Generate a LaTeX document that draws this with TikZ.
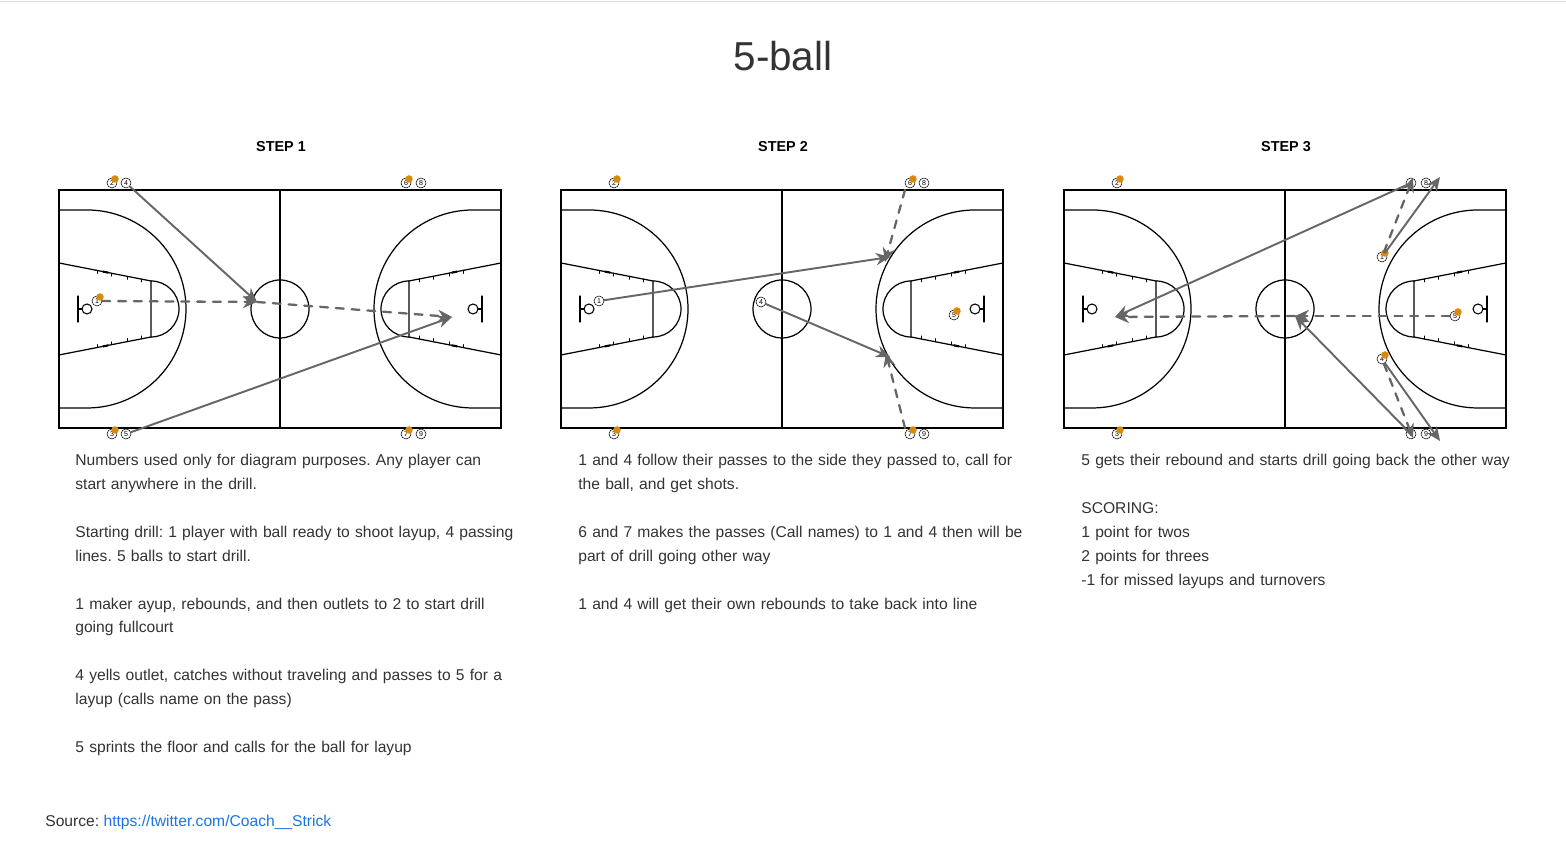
\documentclass[tikz,border=0pt]{standalone}
\usepackage{fontspec}
\setmainfont{Liberation Sans}
\usetikzlibrary{arrows.meta}
\frenchspacing
\definecolor{pass}{HTML}{666666}
\definecolor{ballc}{HTML}{D98A0C}
\definecolor{txt}{HTML}{333333}
\definecolor{link}{HTML}{1A73E8}
% one player and one player holding a ball
\newcommand{\plyr}[3]{\node[player] (#1) at (#2) {#3};}
\newcommand{\bplyr}[3]{\node[player] (#1) at (#2) {#3};
  \node[ball] at ([shift={(3,4)}]#1.center) {};}
\begin{document}
\begin{tikzpicture}
     [x=0.02cm,y=0.02cm,line cap=round,
      % Styles
        court/.pic={
          \draw[line width=0.7pt] (0,0) rectangle (442,238);
          \draw[line width=0.7pt] (221,0) -- (221,238);
          \draw[line width=0.7pt] (221,119) circle (29);
          \foreach \s/\sh in {1/0,-1/442}{
            \begin{scope}[shift={(\sh,0)},xscale=\s]
              \draw[line width=0.7pt] (0,218) -- (28,218) arc (90:-90:99) -- (0,20);
              \draw[line width=0.7pt] (0,165) -- (92,147) -- (92,91) -- (0,73);
              \draw[line width=0.7pt] (92,147) arc (90:-90:28);
              \foreach \t in {38,52,68,82}{
                \draw[line width=0.5pt] (\t,{165-18*\t/92}) -- ++(0,-3);
                \draw[line width=0.5pt] (\t,{73+18*\t/92}) -- ++(0,3);}
              \draw[line width=1.2pt] (44,{165-18*44/92}) -- ++(5,-1);
              \draw[line width=1.2pt] (44,{73+18*44/92}) -- ++(5,1);
              \draw[line width=0.7pt] (19,132) -- (19,106) (19,119) -- (23,119);
              \draw[line width=0.6pt] (28,119) circle (5);
            \end{scope}}
        },
        player/.style={circle,draw,line width=0.3pt,fill=white,inner sep=0pt,
          minimum size=0.2cm,font=\fontsize{4}{4}\selectfont},
        ball/.style={circle,fill=ballc,inner sep=0pt,minimum size=0.15cm},
        solidpass/.style={draw=pass,line width=1.1pt,-{Stealth[length=8pt,width=7pt]}},
        dashpass/.style={draw=pass,line width=1.3pt,dash pattern=on 4.5pt off 4.5pt,
          -{Stealth[length=8pt,width=7pt]}},
        steptitle/.style={font=\bfseries\fontsize{8.2}{10}\selectfont,text=black},
        notes/.style={anchor=north west,inner sep=0pt,text width=9.4cm,align=left,
          text=txt,font=\fontsize{8.9}{13.6}\selectfont}]
    \useasboundingbox (0,0) rectangle (1566,857);
    \draw[gray!25] (0,856) -- (1566,856);
    \node[font=\fontsize{23}{28}\selectfont,text=txt] (title) at (783,801) {5-ball};
    \node[steptitle] (s1) at (281,710) {STEP 1};
    \node[steptitle] (s2) at (783,710) {STEP 2};
    \node[steptitle] (s3) at (1286,710) {STEP 3};
    \pic at (59,429) {court};
    \pic at (561,429) {court};
    \pic at (1064,429) {court};
    % step 1
    \bplyr{a2}{112,674}{2} \plyr{a4}{126,674}{4}
    \bplyr{a6}{406,674}{6} \plyr{a8}{421,674}{8}
    \bplyr{a3}{112,423}{3} \plyr{a5}{126,423}{5}
    \bplyr{a7}{406,423}{7} \plyr{a9}{421,423}{9}
    \bplyr{a1}{97,556}{1}
    \coordinate (am) at (257,555);
    \coordinate (ar) at (452,540);
    \draw[dashpass] (a1) -- (am);
    \draw[dashpass] (am) -- (ar);
    \draw[solidpass] (a4) -- (am);
    \draw[solidpass] (a5) -- (ar);
    % step 2
    \bplyr{b2}{614,674}{2}
    \bplyr{b6}{910,674}{6} \plyr{b8}{924,674}{8}
    \bplyr{b3}{614,423}{3}
    \bplyr{b7}{910,423}{7} \plyr{b9}{924,423}{9}
    \plyr{b1}{599,556}{1} \plyr{b4}{761,555}{4}
    \bplyr{b5}{954,542}{5}
    \coordinate (bt) at (890,600);
    \coordinate (bb) at (890,500);
    \coordinate (bts) at (905,667);
    \coordinate (bbs) at (905,429);
    \draw[solidpass] (b1) -- (bt);
    \draw[solidpass] (b4) -- (bb);
    \draw[dashpass] (bts) -- (885,595);
    \draw[dashpass] (bbs) -- (886,504);
    % step 3
    \bplyr{c2}{1117,674}{2}
    \bplyr{c3}{1117,423}{3}
    \plyr{c6}{1411,674}{6} \plyr{c8}{1426,674}{8}
    \plyr{c7}{1411,423}{7} \plyr{c9}{1426,423}{9}
    \bplyr{c1}{1382,600}{1} \bplyr{c4}{1382,498}{4}
    \bplyr{c5}{1455,541}{5}
    \coordinate (cl) at (1115,540);
    \coordinate (cm) at (1295,541);
    \coordinate (cut) at (1440,680);
    \coordinate (cdt) at (1413,679);
    \coordinate (cub) at (1440,416);
    \coordinate (cdb) at (1413,419);
    \draw[dashpass] (c5) -- (cm);
    \draw[dashpass] (cm) -- (cl);
    \draw[solidpass] (c6) -- (cl);
    \draw[solidpass] (c1) -- (cut);
    \draw[dashpass] (c1) -- (cdt);
    \draw[solidpass] (c7) -- (cm);
    \draw[solidpass] (c4) -- (cub);
    \draw[dashpass] (c4) -- (cdb);
    % notes
    \node[notes] (n1) at (75,403) {Numbers used only for diagram purposes. Any player can\\
      start anywhere in the drill.\\[13.6pt]
      Starting drill: 1 player with ball ready to shoot layup, 4 passing\\
      lines. 5 balls to start drill.\\[13.6pt]
      1 maker ayup, rebounds, and then outlets to 2 to start drill\\
      going fullcourt\\[13.6pt]
      4 yells outlet, catches without traveling and passes to 5 for a\\
      layup (calls name on the pass)\\[13.6pt]
      5 sprints the floor and calls for the ball for layup};
    \node[notes] (n2) at (578,403) {1 and 4 follow their passes to the side they passed to, call for\\
      the ball, and get shots.\\[13.6pt]
      6 and 7 makes the passes (Call names) to 1 and 4 then will be\\
      part of drill going other way\\[13.6pt]
      1 and 4 will get their own rebounds to take back into line};
    \node[notes] (n3) at (1081,403) {5 gets their rebound and starts drill going back the other way\\[13.6pt]
      SCORING:\\
      1 point for twos\\
      2 points for threes\\
      -1 for missed layups and turnovers};
    \node[anchor=base west,inner sep=0pt,text=txt,font=\fontsize{8.9}{13.6}\selectfont]
      (src) at (45,30) {Source: \textcolor{link}{https://twitter.com/Coach\_\_Strick}};
\end{tikzpicture}
\end{document}
